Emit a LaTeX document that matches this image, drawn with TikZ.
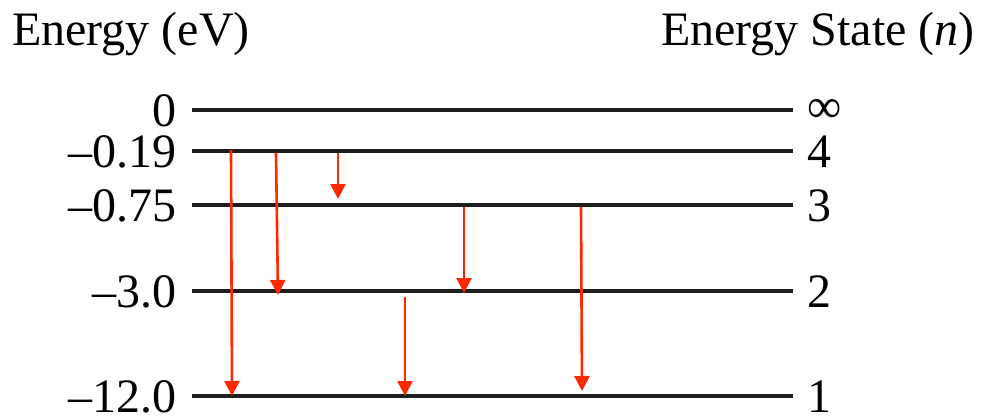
\documentclass[tikz,border=0pt]{standalone}
\usepackage{fontspec}
\setmainfont{Liberation Serif}
\usetikzlibrary{arrows.meta}
\definecolor{tred}{RGB}{255,40,0}
\definecolor{lvl}{RGB}{30,30,30}
\tikzset{
  level/.style={draw=lvl, line width=4pt},
  trans/.style={draw=tred, line width=2.6pt, -{Triangle[width=15pt,length=15pt]}},
  elab/.style={font=\fontsize{48}{48}\selectfont, anchor=east, inner sep=0pt},
  nlab/.style={font=\fontsize{48}{48}\selectfont, anchor=west, inner sep=0pt},
  head/.style={font=\fontsize{48}{48}\selectfont, anchor=base west, inner sep=0pt}
}
\begin{document}
\begin{tikzpicture}[x=1pt,y=-1pt]
\useasboundingbox (0,0) rectangle (986,418);
% headers
\node[head] (hl) at (12,45) {Energy (eV)};
\node[head] (hr) at (661,45) {Energy State (\textit{n})};
% levels
\foreach \nm/\yy/\ev/\n in {inf/110/0/∞, l4/151/–0.19/4, l3/205/–0.75/3, l2/291/–3.0/2, l1/396/–12.0/1}{
  \coordinate (\nm W) at (192,\yy);
  \coordinate (\nm E) at (793,\yy);
  \draw[level] (\nm W) -- (\nm E);
  \node[elab] (\nm ev) at (177,\yy+1) {\ev};
  \node[nlab] (\nm n) at (807,\yy+1) {\n};
}
% transition endpoints
\coordinate (a1s) at (231,150); \coordinate (a1e) at (232,396);
\coordinate (a2s) at (276,153); \coordinate (a2e) at (278,295);
\coordinate (a3s) at (338,153); \coordinate (a3e) at (338,199);
\coordinate (a4s) at (464,207); \coordinate (a4e) at (464,293);
\coordinate (a5s) at (405,297); \coordinate (a5e) at (405,396);
\coordinate (a6s) at (581,207); \coordinate (a6e) at (582,391);
\foreach \i in {1,...,6}{
  \draw[trans] (a\i s) -- (a\i e);
}
\end{tikzpicture}
\end{document}
